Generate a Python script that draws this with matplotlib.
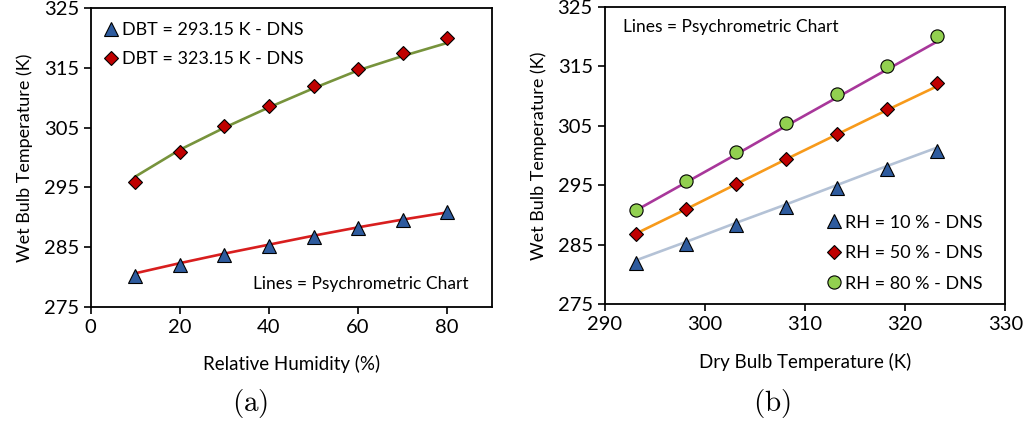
import numpy as np
import matplotlib.pyplot as plt

plt.rcParams['font.family'] = ['Lato', 'DejaVu Sans']
plt.rcParams['mathtext.fontset'] = 'cm'

# (a) wet bulb vs relative humidity
rh = [10, 20, 30, 40, 50, 60, 70, 80]
dns_293 = [280.1, 282.0, 283.7, 285.2, 286.7, 288.2, 289.5, 290.9]
chart_293 = [280.6, 282.3, 283.9, 285.4, 286.9, 288.3, 289.6, 290.8]
dns_323 = [295.95, 300.9, 305.2, 308.7, 312.0, 314.8, 317.5, 320.0]
chart_323 = [296.8, 301.3, 305.0, 308.4, 311.6, 314.6, 317.0, 319.2]

# (b) wet bulb vs dry bulb temperature
dbt = [293.15, 298.15, 303.15, 308.15, 313.15, 318.15, 323.15]
dns_rh10 = [282.0, 285.1, 288.3, 291.4, 294.6, 297.8, 300.8]
chart_rh10 = [282.4, 285.5, 288.7, 291.8, 295.0, 298.2, 301.3]
dns_rh50 = [286.8, 291.0, 295.2, 299.4, 303.6, 307.8, 312.1]
chart_rh50 = [286.9, 291.0, 295.2, 299.4, 303.5, 307.6, 311.6]
dns_rh80 = [290.8, 295.7, 300.6, 305.4, 310.3, 315.1, 320.1]
chart_rh80 = [290.8, 295.5, 300.2, 305.0, 309.7, 314.4, 319.1]

blue = '#2E5B9E'
red = '#C00000'
lgreen = '#92D050'

fig = plt.figure(figsize=(10.24, 4.26), dpi=100)
ax1 = fig.add_axes([0.0886, 0.280, 0.3916, 0.7005])
ax2 = fig.add_axes([0.5905, 0.2857, 0.3912, 0.6986])

fs = 13

# panel a
ax1.plot(rh, chart_293, color='#D81E1E', lw=1.9, zorder=2)
ax1.plot(rh, chart_323, color='#77933C', lw=1.9, zorder=2)
ax1.plot(rh, dns_293, '^', color=blue, mec='black', mew=0.8, ms=10,
         label='DBT = 293.15 K - DNS', zorder=3)
ax1.plot(rh, dns_323, 'D', color=red, mec='black', mew=0.8, ms=7,
         label='DBT = 323.15 K - DNS', zorder=3)
ax1.set_xlim(0, 90)
ax1.set_xticks([0, 20, 40, 60, 80])
ax1.set_xlabel('Relative Humidity (%)', fontsize=fs + 0.5, labelpad=14)
ax1.legend(loc='upper left', frameon=False, fontsize=fs, handlelength=0.8,
           handletextpad=0.2, labelspacing=0.75, borderaxespad=0.35,
           bbox_to_anchor=(0.0, 1.0))
ax1.text(0.943, 0.076, 'Lines = Psychrometric Chart', transform=ax1.transAxes,
         ha='right', va='center', fontsize=12.5)

# panel b
ax2.plot(dbt, chart_rh10, color='#B4C2D6', lw=1.9, zorder=2)
ax2.plot(dbt, chart_rh50, color='#F79A1B', lw=1.9, zorder=2)
ax2.plot(dbt, chart_rh80, color='#A8379A', lw=1.9, zorder=2)
ax2.plot(dbt, dns_rh10, '^', color=blue, mec='black', mew=0.8, ms=10,
         label='RH = 10 % - DNS', zorder=3)
ax2.plot(dbt, dns_rh50, 'D', color=red, mec='black', mew=0.8, ms=7,
         label='RH = 50 % - DNS', zorder=3)
ax2.plot(dbt, dns_rh80, 'o', color=lgreen, mec='black', mew=0.8, ms=9.5,
         label='RH = 80 % - DNS', zorder=3)
ax2.set_xlim(290, 330)
ax2.set_xticks([290, 300, 310, 320, 330])
ax2.set_xlabel('Dry Bulb Temperature (K)', fontsize=fs + 0.5, labelpad=14)
ax2.legend(loc='lower right', frameon=False, fontsize=fs, handlelength=0.8,
           handletextpad=0.2, labelspacing=0.8, borderaxespad=0.3,
           bbox_to_anchor=(0.975, 0.0))
ax2.text(0.046, 0.931, 'Lines = Psychrometric Chart', transform=ax2.transAxes,
         ha='left', va='center', fontsize=12.5)

for ax in (ax1, ax2):
    ax.set_ylim(275, 325)
    ax.set_yticks([275, 285, 295, 305, 315, 325])
    ax.set_ylabel('Wet Bulb Temperature (K)', fontsize=fs, labelpad=8)
    ax.tick_params(labelsize=14.5, direction='out', length=5, width=1.2,
                   top=False, right=False)
    for s in ax.spines.values():
        s.set_linewidth(1.3)

fig.text(0.244, 0.053, r'$\mathrm{(a)}$', ha='center', va='center', fontsize=21)
fig.text(0.754, 0.053, r'$\mathrm{(b)}$', ha='center', va='center', fontsize=21)

fig.savefig('out.png', dpi=100)
